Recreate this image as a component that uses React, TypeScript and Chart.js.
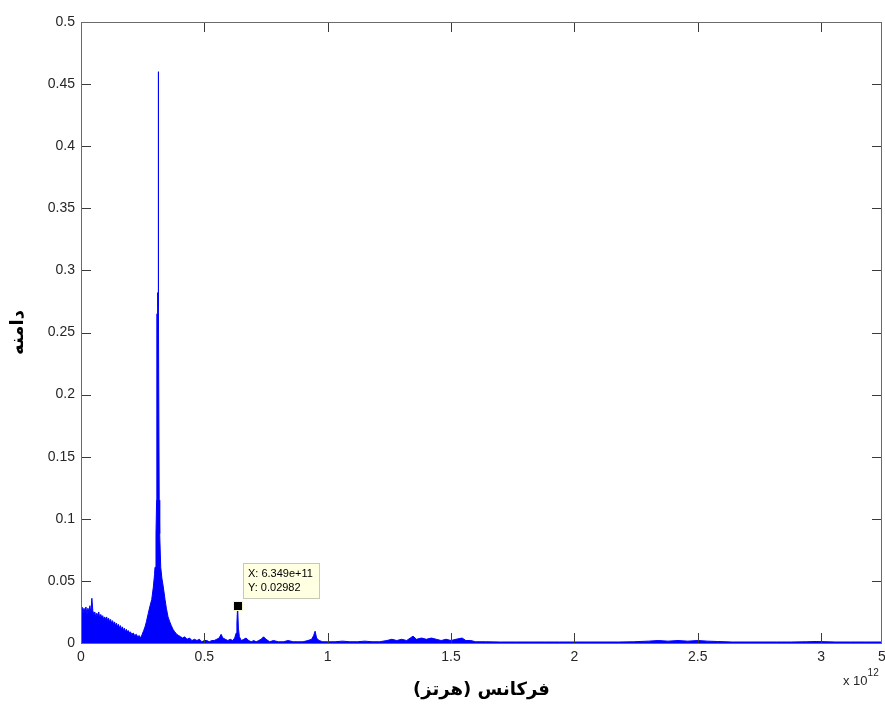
import React, { useEffect, useRef } from 'react';
import { Chart, registerables } from 'chart.js';

Chart.register(...registerables);

// Frequency in units of 1e12 Hz
const freqs = [
  0.000, 0.004, 0.008, 0.012, 0.016, 0.020, 0.024, 0.028, 0.032, 0.036,
  0.040, 0.044, 0.048, 0.052, 0.056, 0.060, 0.064, 0.068, 0.072, 0.076,
  0.080, 0.084, 0.088, 0.092, 0.096, 0.100, 0.104, 0.108, 0.112, 0.116,
  0.120, 0.124, 0.128, 0.132, 0.136, 0.140, 0.144, 0.148, 0.152, 0.156,
  0.160, 0.164, 0.168, 0.172, 0.176, 0.180, 0.184, 0.188, 0.192, 0.196,
  0.200, 0.206, 0.212, 0.218, 0.224, 0.230, 0.236, 0.242, 0.248,
  0.2540, 0.2595, 0.2650, 0.2717, 0.2800, 0.2867, 0.2932, 0.2980, 0.3000, 0.3040,
  0.3065, 0.3075, 0.3100, 0.3105, 0.3124, 0.3126, 0.3134, 0.3136, 0.3160, 0.3170,
  0.3190, 0.3232, 0.3280, 0.3337, 0.3406, 0.3460, 0.3528, 0.3600, 0.3660, 0.3731,
  0.3800, 0.3880, 0.3960, 0.4040, 0.4120, 0.4200, 0.4300, 0.4400, 0.4500, 0.4600,
  0.4700, 0.4800, 0.4900, 0.5000, 0.5100, 0.5200, 0.5300, 0.5400, 0.5500, 0.5600,
  0.5680, 0.5750, 0.5850, 0.5950, 0.6050, 0.6150, 0.6230, 0.6290, 0.6320, 0.6349,
  0.6380, 0.6420, 0.6500, 0.6600, 0.6690, 0.6800, 0.6900, 0.7000, 0.7100, 0.7200,
  0.7300, 0.7400, 0.7500, 0.7650, 0.7800, 0.8000, 0.8200, 0.8400, 0.8600, 0.8800,
  0.9000, 0.9200, 0.9350, 0.9430, 0.9490, 0.9550, 0.9650, 0.9800, 1.0000, 1.0300,
  1.0600, 1.0900, 1.1200, 1.1500, 1.1800, 1.2100, 1.2400, 1.2600, 1.2800, 1.3000,
  1.3200, 1.3460, 1.3600, 1.3800, 1.4000, 1.4200, 1.4400, 1.4600, 1.4800, 1.5000,
  1.5200, 1.5450, 1.5600, 1.5800, 1.6000, 1.6400, 1.7000, 1.7600, 1.8200, 1.8800,
  1.9400, 2.0000, 2.0600, 2.1200, 2.1800, 2.2400, 2.3000, 2.3400, 2.3800, 2.4200,
  2.4600, 2.5000, 2.5400, 2.5800, 2.6400, 2.7000, 2.7600, 2.8200, 2.8800, 2.9400,
  2.9800, 3.0200, 3.0600, 3.1200, 3.1800, 3.2470,
];

const amps = [
  0.027, 0.029, 0.024, 0.028, 0.025, 0.029, 0.023, 0.028, 0.025, 0.030,
  0.024, 0.036, 0.026, 0.023, 0.025, 0.021, 0.024, 0.022, 0.025, 0.020,
  0.023, 0.021, 0.022, 0.019, 0.021, 0.019, 0.021, 0.018, 0.020, 0.017,
  0.019, 0.016, 0.018, 0.015, 0.017, 0.014, 0.016, 0.013, 0.015, 0.012,
  0.014, 0.011, 0.013, 0.010, 0.012, 0.009, 0.011, 0.009, 0.010, 0.008,
  0.009, 0.007, 0.008, 0.006, 0.007, 0.005, 0.006, 0.004, 0.007,
  0.010, 0.013, 0.017, 0.023, 0.030, 0.035, 0.045, 0.055, 0.061, 0.088,
  0.115, 0.265, 0.265, 0.282, 0.282, 0.460, 0.460, 0.282, 0.270, 0.115,
  0.088, 0.061, 0.052, 0.045, 0.035, 0.028, 0.021, 0.017, 0.014, 0.011,
  0.009, 0.007, 0.006, 0.005, 0.004, 0.005, 0.003, 0.004, 0.002, 0.003,
  0.002, 0.003, 0.001, 0.002, 0.002, 0.001, 0.002, 0.002, 0.003, 0.004,
  0.007, 0.004, 0.003, 0.002, 0.003, 0.002, 0.004, 0.008, 0.016, 0.02982,
  0.012, 0.005, 0.002, 0.003, 0.004, 0.002, 0.001, 0.002, 0.001, 0.002,
  0.003, 0.005, 0.003, 0.001, 0.002, 0.001, 0.001, 0.002, 0.001, 0.001,
  0.001, 0.002, 0.003, 0.006, 0.0095, 0.004, 0.002, 0.001, 0.001, 0.001,
  0.0015, 0.001, 0.001, 0.0015, 0.001, 0.001, 0.002, 0.003, 0.002, 0.003,
  0.002, 0.0055, 0.003, 0.004, 0.003, 0.004, 0.003, 0.002, 0.003, 0.002,
  0.003, 0.004, 0.002, 0.002, 0.001, 0.001, 0.0008, 0.0008, 0.0008, 0.0008,
  0.0008, 0.0008, 0.0008, 0.0008, 0.0008, 0.001, 0.0015, 0.002, 0.0015, 0.002,
  0.0015, 0.002, 0.0015, 0.0012, 0.0008, 0.0008, 0.0008, 0.0008, 0.0008, 0.001,
  0.0012, 0.001, 0.0008, 0.0008, 0.0008, 0.0008,
];

const xTickValues = [0, 0.5, 1, 1.5, 2, 2.5, 3];
const xAxisMax = 3.247;
const xTickLabels = ['0', '0.5', '1', '1.5', '2', '2.5', '3', '5'];
const yTickValues = [0, 0.05, 0.1, 0.15, 0.2, 0.25, 0.3, 0.35, 0.4, 0.45, 0.5];
const yTickLabels = ['0', '0.05', '0.1', '0.15', '0.2', '0.25', '0.3', '0.35', '0.4', '0.45', '0.5'];

// x-axis title words in reading order (right-to-left script)
const xTitleWords = ['فرکانس', '(هرتز)'];
const yTitle = 'دامنه';
const xExponentBase = 'x 10';
const xExponent = '12';

const tipX = 0.6349;
const tipY = 0.02982;
const tipLines = ['X: 6.349e+11', 'Y: 0.02982'];

const tickFont = { family: 'Liberation Sans, Arial, sans-serif', size: 14 };
const titleFont = { family: 'DejaVu Sans', size: 18, weight: 'bold' as const };

const decorPlugin = {
  id: 'matlabDecor',
  afterDraw(chart: any) {
    const { ctx, chartArea } = chart;
    const xs = chart.scales.x;
    const ys = chart.scales.y;
    const L = chartArea.left, R = chartArea.right, T = chartArea.top, B = chartArea.bottom;
    const tl = 10;
    ctx.save();
    // inward ticks
    ctx.strokeStyle = '#3a3a3a';
    ctx.lineWidth = 1;
    ctx.beginPath();
    for (const v of xTickValues) {
      const px = Math.round(xs.getPixelForValue(v)) + 0.5;
      ctx.moveTo(px, B);
      ctx.lineTo(px, B - tl);
      ctx.moveTo(px, T);
      ctx.lineTo(px, T + tl);
    }
    for (const v of yTickValues) {
      const py = Math.round(ys.getPixelForValue(v)) + 0.5;
      ctx.moveTo(L, py);
      ctx.lineTo(L + tl, py);
      ctx.moveTo(R, py);
      ctx.lineTo(R - tl, py);
    }
    ctx.stroke();
    // box
    ctx.strokeStyle = '#6a6a6a';
    ctx.strokeRect(Math.round(L) + 0.5, Math.round(T) + 0.5, Math.round(R - L) - 1, Math.round(B - T));

    // x-axis title: first word on the right, second (in parentheses) on the left
    ctx.fillStyle = '#000';
    ctx.textBaseline = 'middle';
    ctx.textAlign = 'left';
    ctx.font = 'bold 18px "DejaVu Sans"';
    const gap = ctx.measureText(' ').width;
    const wFirst = ctx.measureText(xTitleWords[0]).width;
    const wSecond = ctx.measureText(xTitleWords[1]).width;
    const startX = (L + R) / 2 - (wFirst + gap + wSecond) / 2;
    ctx.fillText(xTitleWords[1], startX, 690);
    ctx.fillText(xTitleWords[0], startX + wSecond + gap, 690);

    // exponent label
    ctx.fillStyle = '#262626';
    ctx.font = '13px Liberation Sans, Arial, sans-serif';
    ctx.fillText(xExponentBase, 843, 681);
    const w = ctx.measureText(xExponentBase).width;
    ctx.font = '10px Liberation Sans, Arial, sans-serif';
    ctx.fillText(xExponent, 843 + w, 673);

    // data tip
    const mx = Math.round(xs.getPixelForValue(tipX));
    const my = Math.round(ys.getPixelForValue(tipY));
    const bx = mx + 5, by = my - 43, bw = 77, bh = 36;
    ctx.fillStyle = '#ffffe1';
    ctx.fillRect(bx, by, bw, bh);
    ctx.strokeStyle = '#c8c8b4';
    ctx.strokeRect(bx + 0.5, by + 0.5, bw - 1, bh - 1);
    ctx.fillStyle = '#000';
    ctx.font = '11px Liberation Sans, Arial, sans-serif';
    ctx.fillText(tipLines[0], bx + 5, by + 11);
    ctx.fillText(tipLines[1], bx + 5, by + 25);
    // marker
    ctx.fillStyle = '#f5f5c8';
    ctx.fillRect(mx - 5, my - 5, 10, 10);
    ctx.fillStyle = '#000';
    ctx.fillRect(mx - 4, my - 4, 8, 8);
    ctx.restore();
  },
};

export default function App() {
  const ref = useRef<HTMLCanvasElement>(null);
  useEffect(() => {
    if (!ref.current) return;
    const points = freqs.map((f, i) => ({ x: f, y: amps[i] }));
    const chart = new Chart(ref.current, {
      type: 'line',
      data: {
        datasets: [
          {
            data: points,
            borderColor: '#0000ff',
            backgroundColor: '#0000ff',
            borderWidth: 1,
            fill: 'origin',
            pointRadius: 0,
            tension: 0,
            borderJoinStyle: 'bevel',
          },
        ],
      },
      options: {
        animation: false,
        responsive: false,
        maintainAspectRatio: false,
        layout: { padding: { top: 22, right: 3, left: 0, bottom: 0 } },
        plugins: { legend: { display: false }, tooltip: { enabled: false } },
        scales: {
          x: {
            type: 'linear',
            min: 0,
            max: xAxisMax,
            afterBuildTicks: (s: any) => {
              s.ticks = [...xTickValues, xAxisMax].map((v) => ({ value: v }));
            },
            afterFit: (s: any) => {
              s.height = 65;
              s.paddingLeft = 0;
              s.paddingRight = 0;
            },
            grid: { display: false, drawTicks: false },
            border: { display: false },
            ticks: {
              autoSkip: false,
              maxRotation: 0,
              padding: 6,
              color: '#262626',
              font: tickFont,
              callback: (_v: any, i: number) => xTickLabels[i],
            },
            title: { display: false },
          },
          y: {
            type: 'linear',
            min: 0,
            max: 0.5,
            afterBuildTicks: (s: any) => {
              s.ticks = yTickValues.map((v) => ({ value: v }));
            },
            afterFit: (s: any) => {
              s.width = 81;
              s.paddingTop = 0;
              s.paddingBottom = 0;
            },
            grid: { display: false, drawTicks: false },
            border: { display: false },
            ticks: {
              autoSkip: false,
              padding: 6,
              color: '#262626',
              font: tickFont,
              callback: (_v: any, i: number) => yTickLabels[i],
            },
            title: {
              display: true,
              text: yTitle,
              color: '#000',
              font: titleFont,
              padding: { top: 8, bottom: 0 },
            },
          },
        },
      },
      plugins: [decorPlugin],
    });
    return () => chart.destroy();
  }, []);
  return (
    <div style={{ position: 'absolute', left: 0, top: 0, width: 885, height: 708, background: '#fff' }}>
      <canvas ref={ref} width={885} height={708} style={{ display: 'block' }} />
    </div>
  );
}
